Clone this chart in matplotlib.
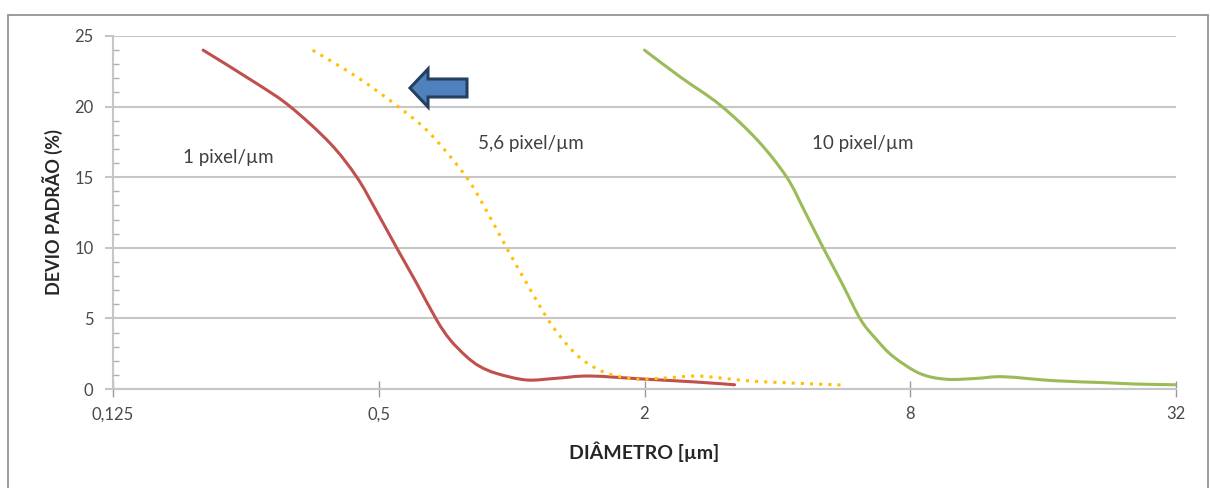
import matplotlib
matplotlib.use("Agg")
import numpy as np
import matplotlib.pyplot as plt
from matplotlib.patches import Polygon, Rectangle, PathPatch
from matplotlib.path import Path
from matplotlib.ticker import FixedLocator, MultipleLocator

plt.rcParams['font.family'] = ['Lato', 'DejaVu Sans']

# data
d_1px = [0.20, 0.264, 0.315, 0.388, 0.446, 0.494, 0.549, 0.609, 0.676, 0.725,
         0.79, 0.847, 0.925, 1.08, 1.265, 1.50, 2.0, 2.6, 3.2]
s_1px = [24.0, 21.65, 20.0, 17.4, 15.0, 12.6, 10.0, 7.5, 4.9, 3.5,
         2.3, 1.6, 1.1, 0.64, 0.76, 0.92, 0.7, 0.5, 0.3]

d_56px = [0.354, 0.446, 0.553, 0.653, 0.79, 0.878, 0.974, 1.081, 1.21, 1.33,
          1.45, 1.63, 1.89, 2.17, 2.62, 3.01, 3.46, 4.11, 5.63]
s_56px = [24.0, 22.1, 20.0, 18.1, 15.0, 12.6, 10.0, 7.5, 4.9, 3.2,
          2.05, 1.16, 0.71, 0.76, 0.92, 0.76, 0.57, 0.45, 0.28]

d_10px = [2.0, 2.41, 2.97, 3.61, 4.20, 4.61, 5.08, 5.60, 6.18, 6.71,
          7.32, 8.41, 9.65, 11.3, 13.0, 16.9, 22, 26, 32]
s_10px = [24.0, 22.1, 20.1, 17.6, 15.0, 12.6, 10.0, 7.5, 4.9, 3.5,
          2.3, 1.1, 0.69, 0.75, 0.87, 0.59, 0.45, 0.35, 0.3]

x_ticks = [0.125, 0.5, 2, 8, 32]
x_labels = ['0,125', '0,5', '2', '8', '32']


def smooth_path(xs, ys):
    # Excel-like smoothed line: Catmull-Rom through the points, in log2 x space
    pts = np.column_stack([np.log2(xs), ys])
    n = len(pts)
    verts = [pts[0]]
    codes = [Path.MOVETO]
    for i in range(n - 1):
        p0 = pts[max(i - 1, 0)]
        p1 = pts[i]
        p2 = pts[i + 1]
        p3 = pts[min(i + 2, n - 1)]
        verts += [p1 + (p2 - p0) / 6, p2 - (p3 - p1) / 6, p2]
        codes += [Path.CURVE4] * 3
    verts = np.array(verts)
    verts[:, 0] = 2 ** verts[:, 0]
    return Path(verts, codes)


fig = plt.figure(figsize=(12.1, 4.88), dpi=100)
ax = fig.add_axes([113 / 1210, 99 / 488, 1063 / 1210, 353 / 488])

# outer frame of the picture
fig.patches.append(Rectangle((8 / 1210, -0.01), 1200 / 1210, 478 / 488,
                             transform=fig.transFigure, fill=False,
                             edgecolor='#8c8c8c', linewidth=1.2))

ax.set_xscale('log', base=2)
ax.set_xlim(0.125, 32)
ax.set_ylim(0, 25)

ax.add_patch(PathPatch(smooth_path(d_1px, s_1px), fill=False,
                       edgecolor='#c0504d', lw=2.2, capstyle='round'))
ax.add_patch(PathPatch(smooth_path(d_56px, s_56px), fill=False,
                       edgecolor='#ffc000', lw=2.2, linestyle=(0, (1, 2))))
ax.add_patch(PathPatch(smooth_path(d_10px, s_10px), fill=False,
                       edgecolor='#9bbb59', lw=2.2, capstyle='round'))

ax.xaxis.set_major_locator(FixedLocator(x_ticks))
ax.xaxis.set_minor_locator(FixedLocator([]))
ax.set_xticklabels(x_labels)
ax.yaxis.set_major_locator(MultipleLocator(5))
ax.yaxis.set_minor_locator(MultipleLocator(1))

grid_c = '#c6c6c6'
ax.grid(axis='y', color=grid_c, lw=1.5)
ax.set_axisbelow(True)
for side in ['top', 'right']:
    ax.spines[side].set_visible(False)
for side in ['left', 'bottom']:
    ax.spines[side].set_color(grid_c)
    ax.spines[side].set_linewidth(1.5)

ax.tick_params(axis='x', which='major', direction='inout', length=11, width=1,
               color='#9a9a9a', labelsize=12, labelcolor='#4a4a4a', pad=7)
ax.tick_params(axis='y', which='major', direction='out', length=6, width=1.5,
               color=grid_c, labelsize=12, labelcolor='#4a4a4a', pad=8)
ax.tick_params(axis='y', which='minor', direction='in', length=4, width=1,
               color='#b0b0b0')

ax.set_xlabel('DIÂMETRO [µm]', fontsize=14, fontweight='bold',
              color='#262626', labelpad=14)
ax.set_ylabel('DEVIO PADRÃO (%)', fontsize=13, fontweight='bold',
              color='#262626', labelpad=8)

ax.text(0.228, 16.4, '1 pixel/µm', fontsize=13.5, color='#404040',
        ha='center', va='center')
ax.text(1.106, 17.4, '5,6 pixel/µm', fontsize=13.5, color='#404040',
        ha='center', va='center')
ax.text(6.25, 17.4, '10 pixel/µm', fontsize=13.5, color='#404040',
        ha='center', va='center')


# blue arrow pointing left, placed in axes fraction
def fx(px):
    return (px - 113) / 1063


def fy(py):
    return (389 - py) / 353


arrow_px = [(410, 88), (428, 69), (428, 79), (467, 79), (467, 97),
            (428, 97), (428, 107)]
ax.add_patch(Polygon([(fx(a), fy(b)) for a, b in arrow_px], closed=True,
                     transform=ax.transAxes, facecolor='#4f81bd',
                     edgecolor='#243f60', linewidth=2.2, zorder=5))

fig.savefig('out.png', dpi=100)
